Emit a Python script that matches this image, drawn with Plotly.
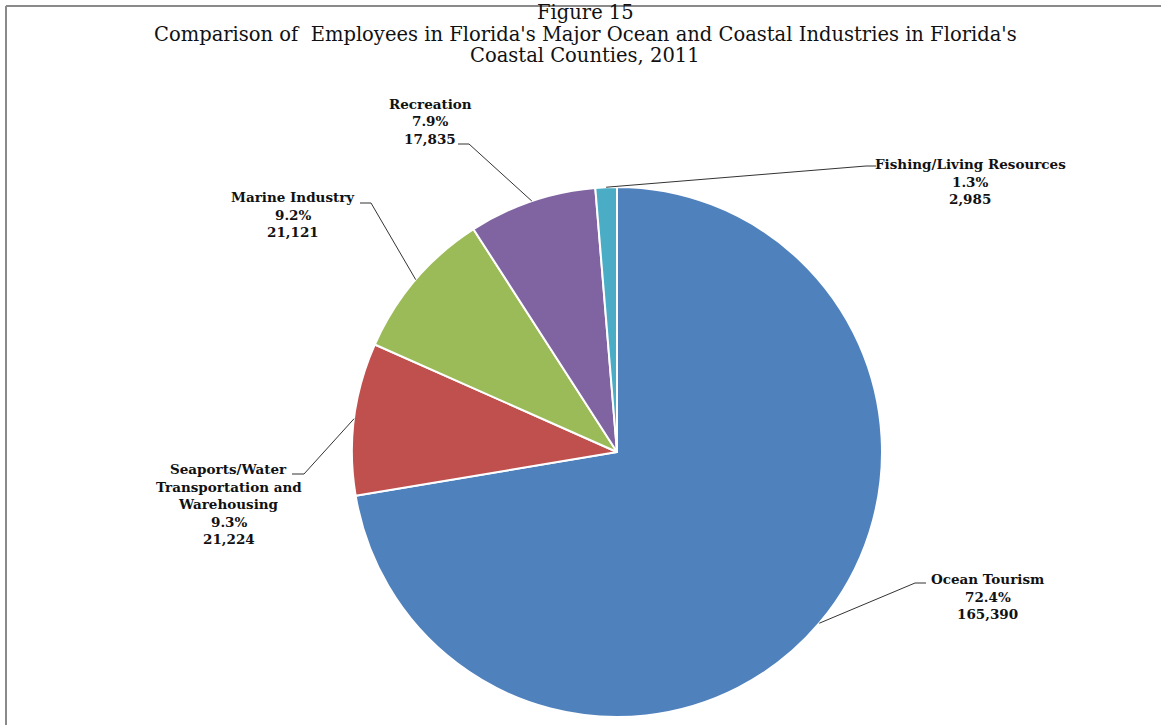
import math
import plotly.graph_objects as go

# Employees by industry, Florida coastal counties, 2011
industries = [
    "Ocean Tourism",
    "Seaports/Water Transportation and Warehousing",
    "Marine Industry",
    "Recreation",
    "Fishing/Living Resources",
]
label_lines = [
    ["Ocean Tourism"],
    ["Seaports/Water", "Transportation and", "Warehousing"],
    ["Marine Industry"],
    ["Recreation"],
    ["Fishing/Living Resources"],
]
employees = [165390, 21224, 21121, 17835, 2985]
share_pct = [72.4, 9.3, 9.2, 7.9, 1.3]   # published shares, %
colors = ["#4F81BD", "#C0504D", "#9BBB59", "#8064A2", "#4BACC6"]

title_lines = [
    "Figure 15",
    "Comparison of  Employees in Florida's Major Ocean and Coastal Industries in Florida's",
    "Coastal Counties, 2011",
]

W, H = 1161, 725
CX, CY, R = 617, 452, 265          # pie centre and radius in pixels
FONT = "DejaVu Serif"
LINE_GAP = 17.5

# label block placement: centre x, first-line centre y, elbow of the leader
label_pos = [
    (988, 579, (926, 583), (915, 583)),
    (229, 469, (292, 474), (304, 474)),
    (293, 197, (360, 203), (371, 203)),
    (430, 104, (458, 144), (469, 144)),
    (970, 164, (876, 166), (866, 166)),
]


def px(x):
    return x / W


def py(y):
    return 1 - y / H


fig = go.Figure(
    go.Pie(
        labels=industries,
        values=employees,
        sort=False,
        direction="clockwise",
        rotation=0,
        textinfo="none",
        hoverinfo="label+value+percent",
        marker=dict(colors=colors, line=dict(color="white", width=2)),
        domain=dict(x=[px(CX - R), px(CX + R)], y=[py(CY + R), py(CY - R)]),
        showlegend=False,
    )
)

annotations = []
shapes = []

total = sum(employees)
cum = 0
for i, v in enumerate(employees):
    share = v / total
    mid = (cum + share / 2) * 2 * math.pi
    cum += share
    # point on the rim at the middle of the slice (clockwise from 12 o'clock)
    ex = CX + R * math.sin(mid)
    ey = CY - R * math.cos(mid)

    cx, cy0, (ax, ay), (bx, by) = label_pos[i]
    lines = label_lines[i] + [f"{share_pct[i]:.1f}%", f"{v:,}"]
    for k, t in enumerate(lines):
        annotations.append(dict(
            x=px(cx), y=py(cy0 + k * LINE_GAP), xref="paper", yref="paper",
            text=f"<b>{t}</b>", showarrow=False, xanchor="center", yanchor="middle",
            font=dict(family=FONT, size=13.5, color="#111111"),
        ))
    shapes.append(dict(
        type="path", xref="paper", yref="paper",
        path=f"M {px(ax)},{py(ay)} L {px(bx)},{py(by)} L {px(ex)},{py(ey)}",
        line=dict(color="#333333", width=1),
    ))

for k, t in enumerate(title_lines):
    annotations.append(dict(
        x=px(585), y=py(13 + k * 21.5), xref="paper", yref="paper",
        text=t, showarrow=False, xanchor="center", yanchor="middle",
        font=dict(family=FONT, size=19.5, color="#111111"),
    ))

# frame lines along the top and left edges
shapes.append(dict(type="line", xref="paper", yref="paper",
                   x0=px(6), x1=px(W), y0=py(6), y1=py(6),
                   line=dict(color="#8a8a8a", width=2)))
shapes.append(dict(type="line", xref="paper", yref="paper",
                   x0=px(6), x1=px(6), y0=py(6), y1=py(H),
                   line=dict(color="#8a8a8a", width=2)))

fig.update_layout(
    width=W, height=H,
    margin=dict(l=0, r=0, t=0, b=0),
    paper_bgcolor="white",
    plot_bgcolor="white",
    annotations=annotations,
    shapes=shapes,
)

fig.write_html("out.html")
